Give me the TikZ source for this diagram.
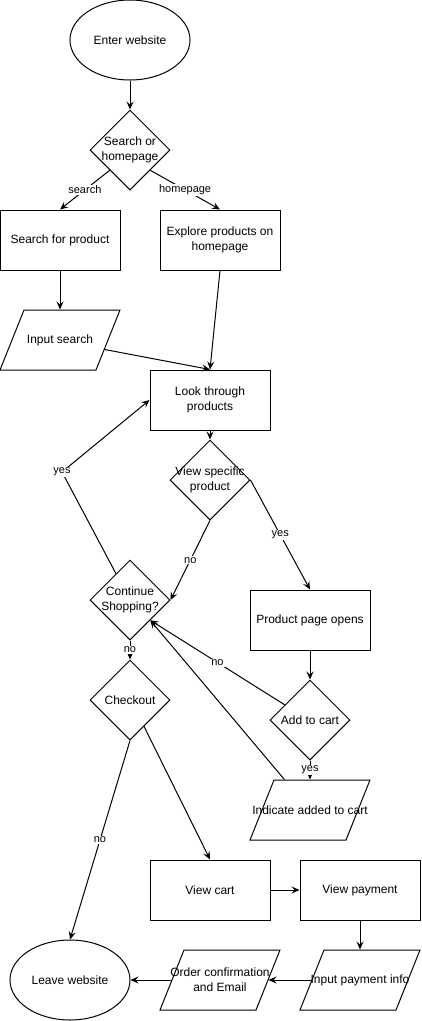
\documentclass[tikz,border=0pt]{standalone}
\usepackage{fontspec}
\setmainfont{Liberation Sans}
\usetikzlibrary{shapes.geometric,arrows.meta}

\tikzset{
  box/.style={draw, minimum width=120pt, minimum height=60pt, inner sep=0pt, align=center, font=\fontsize{12}{15}\selectfont},
  oval/.style={ellipse, draw, minimum width=120pt, minimum height=80pt, inner sep=0pt, font=\fontsize{12}{15}\selectfont},
  dec/.style={diamond, draw, minimum width=80pt, minimum height=80pt, inner sep=0pt},
  io/.style={trapezium, draw, trapezium left angle=71.57, trapezium right angle=108.43, trapezium stretches=true, minimum width=120pt, minimum height=60pt, inner sep=2pt},
  txt/.style={align=center, font=\fontsize{12}{15}\selectfont},
  lbl/.style={fill=white, inner sep=1pt, font=\fontsize{11}{13}\selectfont},
}

\begin{document}
\begin{tikzpicture}[x=1pt, y=-1pt, line width=1pt, >={Stealth[length=8pt,width=7pt,inset=3pt]}]
            \useasboundingbox (0,0) rectangle (421,1021);
            % shapes
            \node[oval] (enter) at (130,40) {Enter website};
            \node[dec, label={[txt]center:Search or\\homepage}] (search) at (130,150) {};
            \node[box] (srch) at (60,240) {Search for product};
            \node[box] (explore) at (220,240) {Explore products on\\homepage};
            \node[io, label={[txt]center:Input search}] (input) at (60,340) {};
            \node[box] (look) at (210,400) {Look through\\products};
            \node[dec, label={[txt]center:View specific\\product}] (view) at (210,480) {};
            \node[dec, label={[txt]center:Continue\\Shopping?}] (cont) at (130,600) {};
            \node[box] (prod) at (310,620) {Product page opens};
            \node[dec, label={[txt]center:Add to cart}] (add) at (310,720) {};
            \node[io, label={[txt]center:Indicate added to cart}] (ind) at (310,810) {};
            \node[dec, label={[txt]center:Checkout}] (chk) at (130,700) {};
            \node[box] (cart) at (210,890) {View cart};
            \node[box] (pay) at (360,890) {View payment};
            \node[io, label={[txt]center:Input payment info}] (inpay) at (360,980) {};
            \node[io, label={[txt]center:Order confirmation\\and Email}] (order) at (220,980) {};
            \node[oval] (leave) at (70,980) {Leave website};
            \coordinate (back) at (62,472);
            % connectors
            \draw[->] (enter) -- (search);
            \draw[->] (search.south west) -- node[lbl]{search} (srch.north);
            \draw[->] (search.south east) -- node[lbl]{homepage} (explore.north);
            \draw[->] (srch) -- (input);
            \draw[->] (explore.south) -- (look.north);
            \draw[->] (input.-12) -- (look.north);
            \draw[->] (look) -- (view);
            \draw[->] (view.east) -- node[lbl]{yes} (prod.north);
            \draw[->] (view.south) -- node[lbl]{no} (cont.east);
            \draw[->] (cont.118) -- (back) node[lbl]{yes} -- (look.west);
            \draw[->] (prod) -- (add);
            \draw[->] (add.149) -- node[lbl]{no} (cont.south east);
            \draw[->] (add.south) -- node[lbl]{yes} (ind.north);
            \draw[->] (ind.130) -- (cont.south east);
            \draw[->] (cont.south) -- node[lbl]{no} (chk.north);
            \draw[->] (chk.south) -- node[lbl]{no} (leave.north);
            \draw[->] (chk.-62) -- (cart.north);
            \draw[->] (cart) -- (pay);
            \draw[->] (pay) -- (inpay);
            \draw[->] (inpay.west) -- (order.east);
            \draw[->] (order.west) -- (leave.east);
        \end{tikzpicture}
\end{document}
